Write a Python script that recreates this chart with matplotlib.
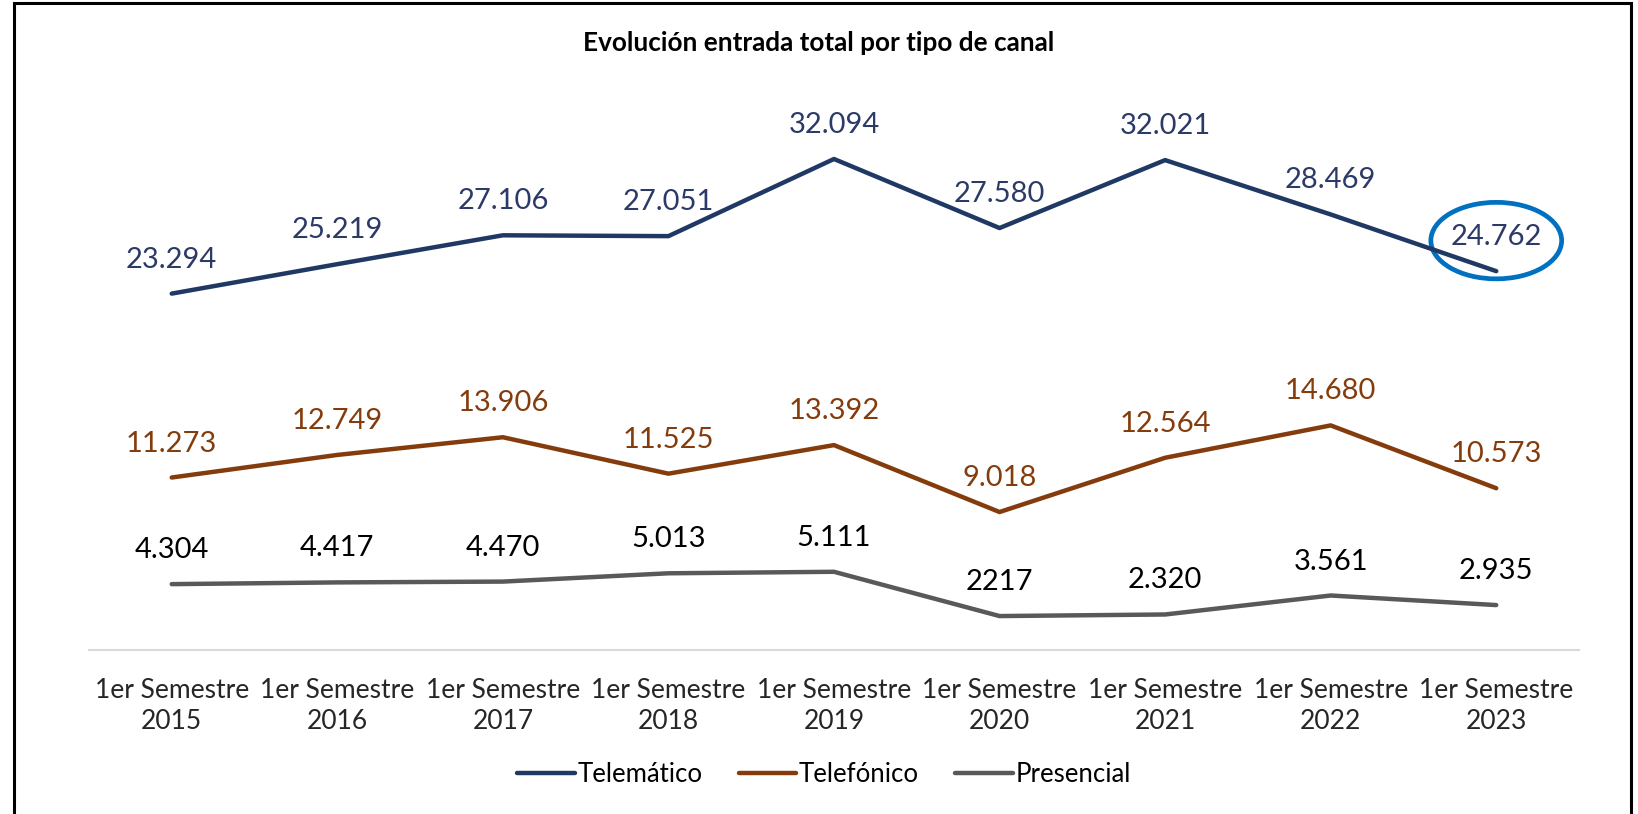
import matplotlib
matplotlib.use("Agg")
import matplotlib.pyplot as plt
import matplotlib.transforms as mtransforms
from matplotlib.patches import Ellipse, Rectangle

categories = ["1er Semestre\n2015", "1er Semestre\n2016", "1er Semestre\n2017",
              "1er Semestre\n2018", "1er Semestre\n2019", "1er Semestre\n2020",
              "1er Semestre\n2021", "1er Semestre\n2022", "1er Semestre\n2023"]
telematico = [23294, 25219, 27106, 27051, 32094, 27580, 32021, 28469, 24762]
telefonico = [11273, 12749, 13906, 11525, 13392, 9018, 12564, 14680, 10573]
presencial = [4304, 4417, 4470, 5013, 5111, 2217, 2320, 3561, 2935]
telematico_labels = ["23.294", "25.219", "27.106", "27.051", "32.094", "27.580", "32.021", "28.469", "24.762"]
telefonico_labels = ["11.273", "12.749", "13.906", "11.525", "13.392", "9.018", "12.564", "14.680", "10.573"]
presencial_labels = ["4.304", "4.417", "4.470", "5.013", "5.111", "2217", "2.320", "3.561", "2.935"]

plt.rcParams['font.family'] = ['Lato', 'DejaVu Sans']

fig = plt.figure(figsize=(16.38, 8.14), dpi=100)
ax = fig.add_axes([0.0543, 0.2015, 0.9097, 0.6578])

x = list(range(len(categories)))
series = [
    ("Telemático", telematico, telematico_labels, "#203864", "#2b3a67"),
    ("Telefónico", telefonico, telefonico_labels, "#843C0C", "#843C0C"),
    ("Presencial", presencial, presencial_labels, "#595959", "#000000"),
]
for name, vals, labs, col, lcol in series:
    ax.plot(x, vals, color=col, lw=3.2, solid_capstyle='round', solid_joinstyle='round', label=name)
    for xi, v, t in zip(x, vals, labs):
        ax.annotate(t, (xi, v), xytext=(0, 34), textcoords='offset pixels',
                    ha='center', va='center', fontsize=21, color=lcol)

ax.set_xlim(-0.5, len(categories) - 0.5)
ax.set_ylim(0, 35000)
ax.set_xticks(x)
ax.set_xticklabels(categories, fontsize=19, color="#262626", linespacing=1.3)
ax.tick_params(axis='x', length=0, pad=20)
ax.set_yticks([])
for s in ['top', 'right', 'left']:
    ax.spines[s].set_visible(False)
ax.spines['bottom'].set_color('#D9D9D9')
ax.spines['bottom'].set_linewidth(1.5)

# highlight ellipse around last Telemático label
ell = Ellipse((x[-1], telematico[-1]), width=0.79, height=5000, transform=ax.transData,
              fill=False, edgecolor='#0070C0', lw=3.4, clip_on=False)
ell.set_transform(ax.transData + mtransforms.ScaledTranslation(0, 22 / 72, fig.dpi_scale_trans))
ax.add_patch(ell)

fig.text(0.5, 0.947, "Evolución entrada total por tipo de canal", ha='center', va='center',
         fontsize=18.8, fontweight='bold', color='#000000')

leg = fig.legend(loc='center', bbox_to_anchor=(0.503, 0.048), ncol=3, frameon=False,
                 fontsize=18.5, handlelength=2.25, handletextpad=0.1, columnspacing=1.4)
for t in leg.get_texts():
    t.set_color('#000000')

fig.patches.append(Rectangle((0.0085, -0.02), 0.987, 1.0165, transform=fig.transFigure,
                             fill=False, edgecolor='black', lw=2.2))

fig.savefig("out.png", dpi=100, facecolor='white')
